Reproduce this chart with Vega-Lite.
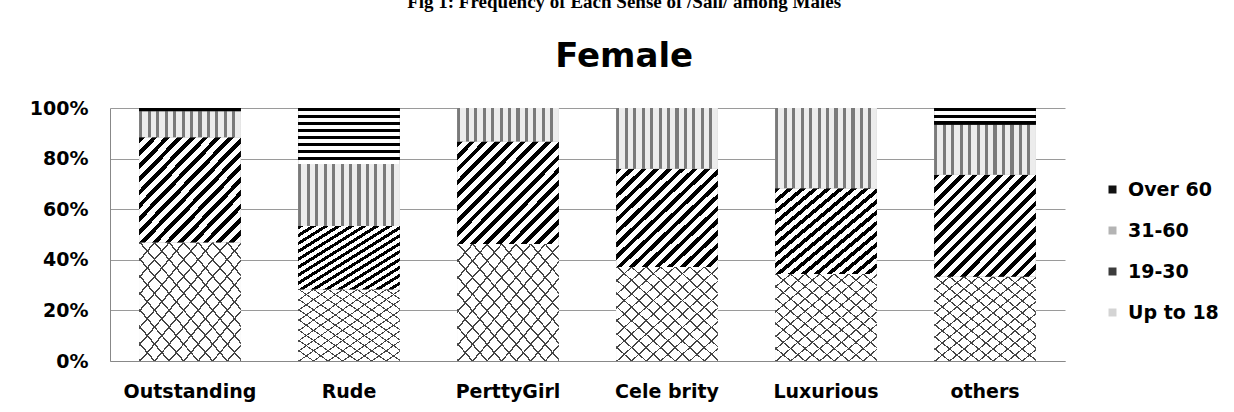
{
  "$schema": "https://vega.github.io/schema/vega-lite/v6.json",
  "width": 955,
  "height": 253,
  "padding": {"left": 29, "top": -7, "right": 5, "bottom": 5},
  "background": "white",
  "title": {
    "text": "Fig 1: Frequency of Each Sense of /Sali/ among Males",
    "subtitle": "Female",
    "anchor": "middle",
    "frame": "bounds",
    "font": "Liberation Serif",
    "fontSize": 19,
    "fontWeight": "bold",
    "color": "black",
    "subtitleFont": "DejaVu Sans",
    "subtitleFontSize": 34,
    "subtitleFontWeight": "bold",
    "subtitleColor": "black",
    "subtitlePadding": 28,
    "offset": 25
  },
  "data": {
    "values": [
      {"sense": "Outstanding", "age": "Up to 18", "k": 1, "value": 46.8},
      {"sense": "Outstanding", "age": "19-30", "k": 2, "value": 41.6},
      {"sense": "Outstanding", "age": "31-60", "k": 3, "value": 10.3},
      {"sense": "Outstanding", "age": "Over 60", "k": 4, "value": 1.3},
      {"sense": "Rude", "age": "Up to 18", "k": 1, "value": 28.3},
      {"sense": "Rude", "age": "19-30", "k": 2, "value": 25.1},
      {"sense": "Rude", "age": "31-60", "k": 3, "value": 24.5},
      {"sense": "Rude", "age": "Over 60", "k": 4, "value": 22.1},
      {"sense": "PerttyGirl", "age": "Up to 18", "k": 1, "value": 46.2},
      {"sense": "PerttyGirl", "age": "19-30", "k": 2, "value": 40.6},
      {"sense": "PerttyGirl", "age": "31-60", "k": 3, "value": 13.2},
      {"sense": "PerttyGirl", "age": "Over 60", "k": 4, "value": 0},
      {"sense": "Cele brity", "age": "Up to 18", "k": 1, "value": 37.2},
      {"sense": "Cele brity", "age": "19-30", "k": 2, "value": 38.8},
      {"sense": "Cele brity", "age": "31-60", "k": 3, "value": 24.0},
      {"sense": "Cele brity", "age": "Over 60", "k": 4, "value": 0},
      {"sense": "Luxurious", "age": "Up to 18", "k": 1, "value": 34.4},
      {"sense": "Luxurious", "age": "19-30", "k": 2, "value": 33.9},
      {"sense": "Luxurious", "age": "31-60", "k": 3, "value": 31.7},
      {"sense": "Luxurious", "age": "Over 60", "k": 4, "value": 0},
      {"sense": "others", "age": "Up to 18", "k": 1, "value": 33.3},
      {"sense": "others", "age": "19-30", "k": 2, "value": 40.3},
      {"sense": "others", "age": "31-60", "k": 3, "value": 19.8},
      {"sense": "others", "age": "Over 60", "k": 4, "value": 6.6}
    ]
  },
  "encoding": {
    "x": {
      "field": "sense",
      "type": "nominal",
      "sort": null,
      "scale": {"paddingInner": 0.36, "paddingOuter": 0.183},
      "axis": {"title": null, "labelAngle": 0, "ticks": false, "domainColor": "#888888", "labelPadding": 21}
    },
    "y": {
      "field": "value",
      "type": "quantitative",
      "stack": "normalize",
      "scale": {"domain": [0, 1], "nice": false},
      "axis": {"title": null, "values": [0, 0.2, 0.4, 0.6, 0.8, 1], "format": ".0%", "ticks": false, "domainColor": "#888888", "gridColor": "#9a9a9a", "labelPadding": 22}
    },
    "order": {"field": "k", "type": "quantitative"}
  },
  "layer": [
    {
      "mark": {"type": "bar"},
      "encoding": {
        "color": {
          "field": "age",
          "type": "nominal",
          "scale": {"domain": ["Over 60", "31-60", "19-30", "Up to 18"], "range": ["#111111", "#b4b4b4", "#3c3c3c", "#d4d4d4"]},
          "legend": {
            "title": null, "orient": "none", "legendX": 993, "legendY": 72,
            "symbolType": "square", "symbolSize": 64, "rowPadding": 21, "labelOffset": 6,
            "labelFont": "DejaVu Sans", "labelFontSize": 19, "labelFontWeight": "bold", "labelColor": "black", "symbolStrokeWidth": 0
          }
        }
      }
    },
    {
      "mark": {"type": "bar"},
      "encoding": {
        "detail": {"field": "age", "type": "nominal"},
        "fill": {
          "condition": [
            {"test": "datum.age === 'Over 60' && datum.sense === 'Outstanding'", "value": "black"},
            {"test": "datum.age === 'Over 60' && datum.sense === 'Rude'", "value": {"gradient": "linear", "x1": 0, "y1": 0, "x2": 0, "y2": 1, "stops": [
              {"offset": 0, "color": "black"}, {"offset": 0.0625, "color": "black"}, {"offset": 0.0625, "color": "white"}, {"offset": 0.125, "color": "white"},
              {"offset": 0.125, "color": "black"}, {"offset": 0.1875, "color": "black"}, {"offset": 0.1875, "color": "white"}, {"offset": 0.25, "color": "white"},
              {"offset": 0.25, "color": "black"}, {"offset": 0.3125, "color": "black"}, {"offset": 0.3125, "color": "white"}, {"offset": 0.375, "color": "white"},
              {"offset": 0.375, "color": "black"}, {"offset": 0.4375, "color": "black"}, {"offset": 0.4375, "color": "white"}, {"offset": 0.5, "color": "white"},
              {"offset": 0.5, "color": "black"}, {"offset": 0.5625, "color": "black"}, {"offset": 0.5625, "color": "white"}, {"offset": 0.625, "color": "white"},
              {"offset": 0.625, "color": "black"}, {"offset": 0.6875, "color": "black"}, {"offset": 0.6875, "color": "white"}, {"offset": 0.75, "color": "white"},
              {"offset": 0.75, "color": "black"}, {"offset": 0.8125, "color": "black"}, {"offset": 0.8125, "color": "white"}, {"offset": 0.875, "color": "white"},
              {"offset": 0.875, "color": "black"}, {"offset": 0.9375, "color": "black"}, {"offset": 0.9375, "color": "white"}, {"offset": 1, "color": "white"}
            ]}},
            {"test": "datum.age === 'Over 60'", "value": {"gradient": "linear", "x1": 0, "y1": 0, "x2": 0, "y2": 1, "stops": [
              {"offset": 0, "color": "black"}, {"offset": 0.2, "color": "black"}, {"offset": 0.2, "color": "white"}, {"offset": 0.4, "color": "white"},
              {"offset": 0.4, "color": "black"}, {"offset": 0.6, "color": "black"}, {"offset": 0.6, "color": "white"}, {"offset": 0.8, "color": "white"},
              {"offset": 0.8, "color": "black"}, {"offset": 1, "color": "black"}
            ]}},
            {"test": "datum.age === '31-60'", "value": {"gradient": "linear", "x1": 0, "y1": 0, "x2": 1, "y2": 0, "stops": [
              {"offset": 0, "color": "#7a7a7a"}, {"offset": 0.03, "color": "#7a7a7a"}, {"offset": 0.03, "color": "#ececec"}, {"offset": 0.0833, "color": "#ececec"},
              {"offset": 0.0833, "color": "#7a7a7a"}, {"offset": 0.1133, "color": "#7a7a7a"}, {"offset": 0.1133, "color": "#ececec"}, {"offset": 0.1667, "color": "#ececec"},
              {"offset": 0.1667, "color": "#7a7a7a"}, {"offset": 0.1967, "color": "#7a7a7a"}, {"offset": 0.1967, "color": "#ececec"}, {"offset": 0.25, "color": "#ececec"},
              {"offset": 0.25, "color": "#7a7a7a"}, {"offset": 0.28, "color": "#7a7a7a"}, {"offset": 0.28, "color": "#ececec"}, {"offset": 0.3333, "color": "#ececec"},
              {"offset": 0.3333, "color": "#7a7a7a"}, {"offset": 0.3633, "color": "#7a7a7a"}, {"offset": 0.3633, "color": "#ececec"}, {"offset": 0.4167, "color": "#ececec"},
              {"offset": 0.4167, "color": "#7a7a7a"}, {"offset": 0.4467, "color": "#7a7a7a"}, {"offset": 0.4467, "color": "#ececec"}, {"offset": 0.5, "color": "#ececec"},
              {"offset": 0.5, "color": "#7a7a7a"}, {"offset": 0.53, "color": "#7a7a7a"}, {"offset": 0.53, "color": "#ececec"}, {"offset": 0.5833, "color": "#ececec"},
              {"offset": 0.5833, "color": "#7a7a7a"}, {"offset": 0.6133, "color": "#7a7a7a"}, {"offset": 0.6133, "color": "#ececec"}, {"offset": 0.6667, "color": "#ececec"},
              {"offset": 0.6667, "color": "#7a7a7a"}, {"offset": 0.6967, "color": "#7a7a7a"}, {"offset": 0.6967, "color": "#ececec"}, {"offset": 0.75, "color": "#ececec"},
              {"offset": 0.75, "color": "#7a7a7a"}, {"offset": 0.78, "color": "#7a7a7a"}, {"offset": 0.78, "color": "#ececec"}, {"offset": 0.8333, "color": "#ececec"},
              {"offset": 0.8333, "color": "#7a7a7a"}, {"offset": 0.8633, "color": "#7a7a7a"}, {"offset": 0.8633, "color": "#ececec"}, {"offset": 0.9167, "color": "#ececec"},
              {"offset": 0.9167, "color": "#7a7a7a"}, {"offset": 0.9467, "color": "#7a7a7a"}, {"offset": 0.9467, "color": "#ececec"}, {"offset": 1, "color": "#ececec"}
            ]}},
            {"test": "datum.age === '19-30'", "value": {"gradient": "linear", "x1": 0, "y1": 0, "x2": 1, "y2": 1, "stops": [
              {"offset": 0, "color": "black"}, {"offset": 0.028, "color": "black"}, {"offset": 0.028, "color": "white"}, {"offset": 0.0625, "color": "white"},
              {"offset": 0.0625, "color": "black"}, {"offset": 0.0905, "color": "black"}, {"offset": 0.0905, "color": "white"}, {"offset": 0.125, "color": "white"},
              {"offset": 0.125, "color": "black"}, {"offset": 0.153, "color": "black"}, {"offset": 0.153, "color": "white"}, {"offset": 0.1875, "color": "white"},
              {"offset": 0.1875, "color": "black"}, {"offset": 0.2155, "color": "black"}, {"offset": 0.2155, "color": "white"}, {"offset": 0.25, "color": "white"},
              {"offset": 0.25, "color": "black"}, {"offset": 0.278, "color": "black"}, {"offset": 0.278, "color": "white"}, {"offset": 0.3125, "color": "white"},
              {"offset": 0.3125, "color": "black"}, {"offset": 0.3405, "color": "black"}, {"offset": 0.3405, "color": "white"}, {"offset": 0.375, "color": "white"},
              {"offset": 0.375, "color": "black"}, {"offset": 0.403, "color": "black"}, {"offset": 0.403, "color": "white"}, {"offset": 0.4375, "color": "white"},
              {"offset": 0.4375, "color": "black"}, {"offset": 0.4655, "color": "black"}, {"offset": 0.4655, "color": "white"}, {"offset": 0.5, "color": "white"},
              {"offset": 0.5, "color": "black"}, {"offset": 0.528, "color": "black"}, {"offset": 0.528, "color": "white"}, {"offset": 0.5625, "color": "white"},
              {"offset": 0.5625, "color": "black"}, {"offset": 0.5905, "color": "black"}, {"offset": 0.5905, "color": "white"}, {"offset": 0.625, "color": "white"},
              {"offset": 0.625, "color": "black"}, {"offset": 0.653, "color": "black"}, {"offset": 0.653, "color": "white"}, {"offset": 0.6875, "color": "white"},
              {"offset": 0.6875, "color": "black"}, {"offset": 0.7155, "color": "black"}, {"offset": 0.7155, "color": "white"}, {"offset": 0.75, "color": "white"},
              {"offset": 0.75, "color": "black"}, {"offset": 0.778, "color": "black"}, {"offset": 0.778, "color": "white"}, {"offset": 0.8125, "color": "white"},
              {"offset": 0.8125, "color": "black"}, {"offset": 0.8405, "color": "black"}, {"offset": 0.8405, "color": "white"}, {"offset": 0.875, "color": "white"},
              {"offset": 0.875, "color": "black"}, {"offset": 0.903, "color": "black"}, {"offset": 0.903, "color": "white"}, {"offset": 0.9375, "color": "white"},
              {"offset": 0.9375, "color": "black"}, {"offset": 0.9655, "color": "black"}, {"offset": 0.9655, "color": "white"}, {"offset": 1, "color": "white"}
            ]}}
          ],
          "value": {"gradient": "linear", "x1": 0, "y1": 0, "x2": 1, "y2": 1, "stops": [
            {"offset": 0, "color": "#444444"}, {"offset": 0.009, "color": "#444444"}, {"offset": 0.009, "color": "white"}, {"offset": 0.0714, "color": "white"},
            {"offset": 0.0714, "color": "#444444"}, {"offset": 0.0804, "color": "#444444"}, {"offset": 0.0804, "color": "white"}, {"offset": 0.1429, "color": "white"},
            {"offset": 0.1429, "color": "#444444"}, {"offset": 0.1519, "color": "#444444"}, {"offset": 0.1519, "color": "white"}, {"offset": 0.2143, "color": "white"},
            {"offset": 0.2143, "color": "#444444"}, {"offset": 0.2233, "color": "#444444"}, {"offset": 0.2233, "color": "white"}, {"offset": 0.2857, "color": "white"},
            {"offset": 0.2857, "color": "#444444"}, {"offset": 0.2947, "color": "#444444"}, {"offset": 0.2947, "color": "white"}, {"offset": 0.3571, "color": "white"},
            {"offset": 0.3571, "color": "#444444"}, {"offset": 0.3661, "color": "#444444"}, {"offset": 0.3661, "color": "white"}, {"offset": 0.4286, "color": "white"},
            {"offset": 0.4286, "color": "#444444"}, {"offset": 0.4376, "color": "#444444"}, {"offset": 0.4376, "color": "white"}, {"offset": 0.5, "color": "white"},
            {"offset": 0.5, "color": "#444444"}, {"offset": 0.509, "color": "#444444"}, {"offset": 0.509, "color": "white"}, {"offset": 0.5714, "color": "white"},
            {"offset": 0.5714, "color": "#444444"}, {"offset": 0.5804, "color": "#444444"}, {"offset": 0.5804, "color": "white"}, {"offset": 0.6429, "color": "white"},
            {"offset": 0.6429, "color": "#444444"}, {"offset": 0.6519, "color": "#444444"}, {"offset": 0.6519, "color": "white"}, {"offset": 0.7143, "color": "white"},
            {"offset": 0.7143, "color": "#444444"}, {"offset": 0.7233, "color": "#444444"}, {"offset": 0.7233, "color": "white"}, {"offset": 0.7857, "color": "white"},
            {"offset": 0.7857, "color": "#444444"}, {"offset": 0.7947, "color": "#444444"}, {"offset": 0.7947, "color": "white"}, {"offset": 0.8571, "color": "white"},
            {"offset": 0.8571, "color": "#444444"}, {"offset": 0.8661, "color": "#444444"}, {"offset": 0.8661, "color": "white"}, {"offset": 0.9286, "color": "white"},
            {"offset": 0.9286, "color": "#444444"}, {"offset": 0.9376, "color": "#444444"}, {"offset": 0.9376, "color": "white"}, {"offset": 1, "color": "white"}
          ]}
        }
      }
    },
    {
      "mark": {"type": "bar"},
      "encoding": {
        "detail": {"field": "age", "type": "nominal"},
        "fill": {
          "condition": {"test": "datum.age === 'Up to 18'", "value": {"gradient": "linear", "x1": 0, "y1": 1, "x2": 1, "y2": 0, "stops": [
            {"offset": 0, "color": "#444444"}, {"offset": 0.009, "color": "#444444"}, {"offset": 0.009, "color": "rgba(255,255,255,0)"}, {"offset": 0.0714, "color": "rgba(255,255,255,0)"},
            {"offset": 0.0714, "color": "#444444"}, {"offset": 0.0804, "color": "#444444"}, {"offset": 0.0804, "color": "rgba(255,255,255,0)"}, {"offset": 0.1429, "color": "rgba(255,255,255,0)"},
            {"offset": 0.1429, "color": "#444444"}, {"offset": 0.1519, "color": "#444444"}, {"offset": 0.1519, "color": "rgba(255,255,255,0)"}, {"offset": 0.2143, "color": "rgba(255,255,255,0)"},
            {"offset": 0.2143, "color": "#444444"}, {"offset": 0.2233, "color": "#444444"}, {"offset": 0.2233, "color": "rgba(255,255,255,0)"}, {"offset": 0.2857, "color": "rgba(255,255,255,0)"},
            {"offset": 0.2857, "color": "#444444"}, {"offset": 0.2947, "color": "#444444"}, {"offset": 0.2947, "color": "rgba(255,255,255,0)"}, {"offset": 0.3571, "color": "rgba(255,255,255,0)"},
            {"offset": 0.3571, "color": "#444444"}, {"offset": 0.3661, "color": "#444444"}, {"offset": 0.3661, "color": "rgba(255,255,255,0)"}, {"offset": 0.4286, "color": "rgba(255,255,255,0)"},
            {"offset": 0.4286, "color": "#444444"}, {"offset": 0.4376, "color": "#444444"}, {"offset": 0.4376, "color": "rgba(255,255,255,0)"}, {"offset": 0.5, "color": "rgba(255,255,255,0)"},
            {"offset": 0.5, "color": "#444444"}, {"offset": 0.509, "color": "#444444"}, {"offset": 0.509, "color": "rgba(255,255,255,0)"}, {"offset": 0.5714, "color": "rgba(255,255,255,0)"},
            {"offset": 0.5714, "color": "#444444"}, {"offset": 0.5804, "color": "#444444"}, {"offset": 0.5804, "color": "rgba(255,255,255,0)"}, {"offset": 0.6429, "color": "rgba(255,255,255,0)"},
            {"offset": 0.6429, "color": "#444444"}, {"offset": 0.6519, "color": "#444444"}, {"offset": 0.6519, "color": "rgba(255,255,255,0)"}, {"offset": 0.7143, "color": "rgba(255,255,255,0)"},
            {"offset": 0.7143, "color": "#444444"}, {"offset": 0.7233, "color": "#444444"}, {"offset": 0.7233, "color": "rgba(255,255,255,0)"}, {"offset": 0.7857, "color": "rgba(255,255,255,0)"},
            {"offset": 0.7857, "color": "#444444"}, {"offset": 0.7947, "color": "#444444"}, {"offset": 0.7947, "color": "rgba(255,255,255,0)"}, {"offset": 0.8571, "color": "rgba(255,255,255,0)"},
            {"offset": 0.8571, "color": "#444444"}, {"offset": 0.8661, "color": "#444444"}, {"offset": 0.8661, "color": "rgba(255,255,255,0)"}, {"offset": 0.9286, "color": "rgba(255,255,255,0)"},
            {"offset": 0.9286, "color": "#444444"}, {"offset": 0.9376, "color": "#444444"}, {"offset": 0.9376, "color": "rgba(255,255,255,0)"}, {"offset": 1, "color": "rgba(255,255,255,0)"}
          ]}},
          "value": "transparent"
        }
      }
    }
  ],
  "config": {
    "view": {"stroke": null},
    "axis": {"labelFont": "DejaVu Sans", "labelFontSize": 19, "labelFontWeight": "bold", "labelColor": "black"}
  }
}
